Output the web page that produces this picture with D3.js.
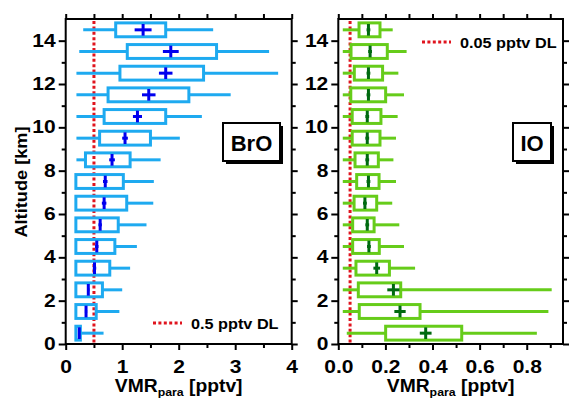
<!DOCTYPE html>
<html>
<head>
<meta charset="utf-8">
<script src="https://cdn.jsdelivr.net/npm/d3@7"></script>
<style>
  body { margin: 0; background: #fff; }
  text { font-family: "Liberation Sans", Arial, sans-serif; font-weight: bold; fill: #000; }
</style>
</head>
<body>
<svg id="chart" width="569" height="401"></svg>
<script>
// altitude bins (km), bottom to top
const altitudes = [0.5, 1.5, 2.5, 3.5, 4.5, 5.5, 6.5, 7.5, 8.5, 9.5, 10.5, 11.5, 12.5, 13.5, 14.5];

// BrO statistics (pptv)
const broLow  = [0.18, 0.18, 0.18, 0.18, 0.18, 0.18, 0.18, 0.18, 0.19, 0.19, 0.19, 0.19, 0.19, 0.24, 0.31];
const broQ1   = [0.18, 0.18, 0.18, 0.18, 0.18, 0.18, 0.18, 0.18, 0.35, 0.60, 0.68, 0.75, 0.96, 1.09, 0.885];
const broQ3   = [0.26, 0.54, 0.65, 0.78, 0.87, 0.93, 1.08, 1.02, 1.14, 1.50, 1.77, 2.18, 2.44, 2.67, 1.77];
const broHigh = [0.67, 0.95, 1.00, 1.14, 1.26, 1.43, 1.55, 1.56, 1.68, 2.02, 2.41, 2.92, 3.76, 3.60, 2.61];
const broMean = [0.24, 0.36, 0.40, 0.51, 0.55, 0.61, 0.68, 0.70, 0.82, 1.05, 1.27, 1.47, 1.77, 1.86, 1.37];
const broErr  = [0.01, 0.02, 0.02, 0.03, 0.03, 0.03, 0.04, 0.04, 0.05, 0.05, 0.08, 0.12, 0.12, 0.14, 0.15];

// IO statistics (pptv)
const ioLow  = [0.036, 0.019, 0.019, 0.019, 0.019, 0.019, 0.019, 0.019, 0.019, 0.019, 0.019, 0.019, 0.019, 0.019, 0.019];
const ioQ1   = [0.201, 0.089, 0.085, 0.075, 0.061, 0.061, 0.067, 0.078, 0.071, 0.059, 0.059, 0.053, 0.068, 0.054, 0.088];
const ioQ3   = [0.524, 0.347, 0.265, 0.217, 0.174, 0.152, 0.163, 0.173, 0.170, 0.177, 0.181, 0.201, 0.188, 0.208, 0.177];
const ioHigh = [0.843, 0.892, 0.906, 0.326, 0.279, 0.259, 0.229, 0.245, 0.234, 0.245, 0.252, 0.279, 0.255, 0.290, 0.231];
const ioMean = [0.371, 0.262, 0.234, 0.163, 0.130, 0.123, 0.113, 0.128, 0.123, 0.123, 0.123, 0.128, 0.128, 0.135, 0.128];
const ioErr  = [0.025, 0.024, 0.026, 0.014, 0.008, 0.008, 0.008, 0.008, 0.008, 0.008, 0.008, 0.008, 0.008, 0.008, 0.008];

// tick values
const yMajor = [0, 2, 4, 6, 8, 10, 12, 14];
const yMinor = [1, 3, 5, 7, 9, 11, 13];
const broTicks = [0, 1, 2, 3, 4];
const broMinor = [0.5, 1.5, 2.5, 3.5];
const broTopTicks = [0, 0.5, 1, 1.5, 2, 2.5, 3, 3.5, 4];
const ioTicks = [0, 0.2, 0.4, 0.6, 0.8];
const ioMinor = [0.1, 0.3, 0.5, 0.7, 0.9];
const ioTopTicks = [0, 0.1, 0.2, 0.3, 0.4, 0.5, 0.6, 0.7, 0.8, 0.9];

const svg = d3.select("#chart");
const plotTop = 19, plotBottom = 344;

// widen glyphs a little, the original lettering is broader than Arial
function stretch(sel, k) {
  sel.each(function () {
    const L = this.getComputedTextLength();
    d3.select(this).attr("textLength", L * k).attr("lengthAdjust", "spacingAndGlyphs");
  });
}

function drawPanel(o) {
  const x = d3.scaleLinear().domain(o.xDomain).range([o.left, o.right]);
  const y = d3.scaleLinear().domain([0, 15]).range([plotBottom, plotTop]);
  const g = svg.append("g");

  // detection limit
  g.append("line")
    .attr("x1", x(o.dl)).attr("x2", x(o.dl))
    .attr("y1", plotTop + 2).attr("y2", plotBottom)
    .attr("stroke", "#e0141e").attr("stroke-width", 3)
    .attr("stroke-dasharray", "3,2.4");

  const half = 0.32;
  altitudes.forEach((a, i) => {
    // whiskers
    g.append("line")
      .attr("x1", x(o.low[i])).attr("x2", x(o.q1[i]))
      .attr("y1", y(a)).attr("y2", y(a))
      .attr("stroke", o.color).attr("stroke-width", 3);
    g.append("line")
      .attr("x1", x(o.q3[i])).attr("x2", x(o.high[i]))
      .attr("y1", y(a)).attr("y2", y(a))
      .attr("stroke", o.color).attr("stroke-width", 3);
    // box
    g.append("rect")
      .attr("x", x(o.q1[i])).attr("y", y(a + half))
      .attr("width", x(o.q3[i]) - x(o.q1[i]))
      .attr("height", y(a - half) - y(a + half))
      .attr("fill", "none").attr("stroke", o.color).attr("stroke-width", 3);
    // mean cross
    g.append("line")
      .attr("x1", x(o.mean[i] - o.err[i])).attr("x2", x(o.mean[i] + o.err[i]))
      .attr("y1", y(a)).attr("y2", y(a))
      .attr("stroke", o.meanColor).attr("stroke-width", 3);
    g.append("line")
      .attr("x1", x(o.mean[i])).attr("x2", x(o.mean[i]))
      .attr("y1", y(a + 0.27)).attr("y2", y(a - 0.27))
      .attr("stroke", o.meanColor).attr("stroke-width", 3);
  });

  // frame
  g.append("rect")
    .attr("x", o.left).attr("y", plotTop)
    .attr("width", o.right - o.left).attr("height", plotBottom - plotTop)
    .attr("fill", "none").attr("stroke", "#000").attr("stroke-width", 2);

  function styleAxis(sel) {
    sel.select(".domain").remove();
    sel.selectAll("line").attr("stroke", "#000").attr("stroke-width", 2);
    sel.selectAll("text").style("font-size", "17.5px").attr("fill", "#000").call(stretch, 1.2);
  }

  g.append("g").attr("transform", `translate(${o.left},0)`)
    .call(d3.axisLeft(y).tickValues(yMajor).tickSize(7).tickPadding(3).tickFormat(d3.format("d")))
    .call(styleAxis);
  g.append("g").attr("transform", `translate(${o.left},0)`)
    .call(d3.axisLeft(y).tickValues(yMinor).tickSize(4).tickFormat(""))
    .call(styleAxis);
  g.append("g").attr("transform", `translate(${o.right},0)`)
    .call(d3.axisRight(y).tickValues(yMajor).tickSize(6).tickFormat(""))
    .call(styleAxis);
  g.append("g").attr("transform", `translate(${o.right},0)`)
    .call(d3.axisRight(y).tickValues(yMinor).tickSize(4).tickFormat(""))
    .call(styleAxis);
  g.append("g").attr("transform", `translate(0,${plotTop})`)
    .call(d3.axisTop(x).tickValues(o.topTicks).tickSize(5).tickFormat(""))
    .call(styleAxis);
  g.append("g").attr("transform", `translate(0,${plotBottom})`)
    .call(d3.axisBottom(x).tickValues(o.ticks).tickSize(6).tickPadding(11).tickFormat(o.fmt))
    .call(styleAxis);
  g.append("g").attr("transform", `translate(0,${plotBottom})`)
    .call(d3.axisBottom(x).tickValues(o.minor).tickSize(4).tickFormat(""))
    .call(styleAxis);

  // x title
  const t = g.append("text")
    .attr("x", (o.left + o.right) / 2).attr("y", 392)
    .attr("text-anchor", "middle").style("font-size", "18px");
  t.append("tspan").text("VMR");
  t.append("tspan").attr("dy", 4).style("font-size", "11.5px").text("para");
  t.append("tspan").attr("dy", -4).text(" [pptv]");
  t.call(stretch, 1.07);

  // species label box
  const lb = o.labelBox;
  g.append("rect").attr("x", lb[0] + 3).attr("y", lb[1] + 3)
    .attr("width", lb[2]).attr("height", lb[3]).attr("fill", "#000");
  g.append("rect").attr("x", lb[0]).attr("y", lb[1])
    .attr("width", lb[2]).attr("height", lb[3])
    .attr("fill", "#fff").attr("stroke", "#000").attr("stroke-width", 2);
  g.append("text")
    .attr("x", lb[0] + lb[2] / 2).attr("y", lb[1] + 28)
    .attr("text-anchor", "middle").style("font-size", "22px")
    .text(o.name);

  // legend
  const lg = o.legend;
  g.append("line")
    .attr("x1", lg[0]).attr("x2", lg[0] + 29)
    .attr("y1", lg[1]).attr("y2", lg[1])
    .attr("stroke", "#e0141e").attr("stroke-width", 3)
    .attr("stroke-dasharray", "3,2.4");
  g.append("text")
    .attr("x", lg[0] + 38).attr("y", lg[1] + 5.5)
    .style("font-size", "14.5px")
    .text(o.legendText)
    .call(stretch, 1.12);
}

drawPanel({
  name: "BrO", left: 65.7, right: 291.7, xDomain: [0, 4],
  low: broLow, q1: broQ1, q3: broQ3, high: broHigh, mean: broMean, err: broErr,
  color: "#1eaaf0", meanColor: "#0000ee", dl: 0.5,
  ticks: broTicks, minor: broMinor, topTicks: broTopTicks, fmt: d3.format("d"),
  labelBox: [223, 123, 57, 38], legend: [153, 323], legendText: "0.5 pptv DL"
});

drawPanel({
  name: "IO", left: 338.3, right: 563, xDomain: [0, 0.954],
  low: ioLow, q1: ioQ1, q3: ioQ3, high: ioHigh, mean: ioMean, err: ioErr,
  color: "#66cc1a", meanColor: "#006a10", dl: 0.05,
  ticks: ioTicks, minor: ioMinor, topTicks: ioTopTicks, fmt: d3.format(".1f"),
  labelBox: [513, 123, 38, 38], legend: [422, 42], legendText: "0.05 pptv DL"
});

// y title
svg.append("text")
  .attr("transform", "translate(27,182) rotate(-90)")
  .attr("text-anchor", "middle").style("font-size", "17px")
  .text("Altitude [km]")
  .call(stretch, 1.07);
</script>
</body>
</html>
